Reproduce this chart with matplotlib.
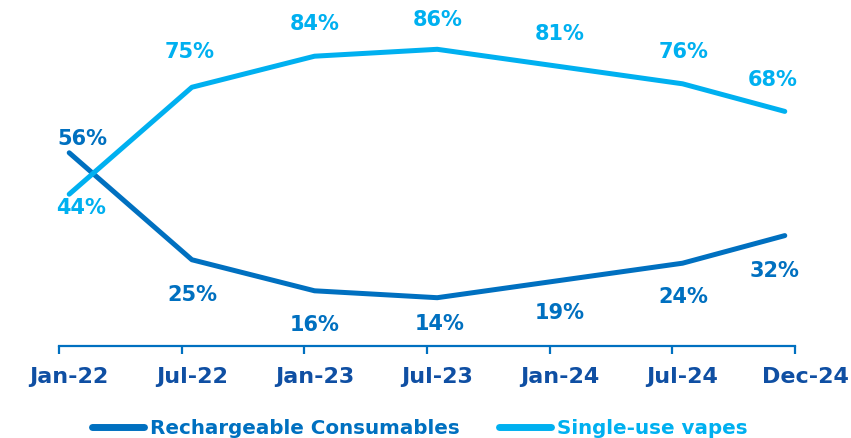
import matplotlib
matplotlib.use('Agg')
import matplotlib.pyplot as plt
import numpy as np

periods = ['Jan-22', 'Jul-22', 'Jan-23', 'Jul-23', 'Jan-24', 'Jul-24', 'Dec-24']
months = [0, 6, 12, 18, 24, 30, 35]  # months since Jan-22 (date axis)
rechargeable = [56, 25, 16, 14, 19, 24, 32]
single_use = [44, 75, 84, 86, 81, 76, 68]

# label offsets in pixels (dx, dy up)
rech_off = [(13, 14), (0, -35), (0, -34), (2, -26), (0, -33), (1, -34), (-10, -35)]
single_off = [(12, -14), (-2, 35), (0, 32), (0, 29), (0, 33), (1, 32), (-12, 31)]

dark = '#0070C0'
light = '#00B0F0'
tickc = '#0F4FA3'

plt.rcParams['font.family'] = ['DejaVu Sans']
plt.rcParams['font.weight'] = 'bold'

fig = plt.figure(figsize=(8.51, 4.38), dpi=100)
ax = fig.add_axes([59 / 851, 1 - 346 / 438, (795 - 59) / 851, 345 / 438])

ax.plot(months, rechargeable, color=dark, lw=3.6, solid_capstyle='round',
        label='Rechargeable Consumables', clip_on=False)
ax.plot(months, single_use, color=light, lw=3.6, solid_capstyle='round',
        label='Single-use vapes', clip_on=False)

for xi, v, off in zip(months, rechargeable, rech_off):
    ax.annotate(f'{v}%', (xi, v), xytext=off, textcoords='offset pixels',
                ha='center', va='center', color=dark, fontsize=15, fontweight='bold')
for xi, v, off in zip(months, single_use, single_off):
    ax.annotate(f'{v}%', (xi, v), xytext=off, textcoords='offset pixels',
                ha='center', va='center', color=light, fontsize=15, fontweight='bold')

ax.set_xlim(-0.5, 35.5)
ax.set_ylim(0, 100)
ticks = np.arange(len(periods)) * 6 - 0.5
ax.set_xticks(ticks)
ax.set_xticklabels([])
# category labels sit a little right of the tick marks
for t, name in zip(ticks, periods):
    ax.annotate(name, (t, 0), xycoords=ax.get_xaxis_transform(),
                xytext=(10, -31), textcoords='offset pixels',
                ha='center', va='center', fontsize=16, fontweight='bold',
                color=tickc, annotation_clip=False)
ax.set_yticks([])
for s in ['top', 'right', 'left']:
    ax.spines[s].set_visible(False)
ax.spines['bottom'].set_color(dark)
ax.spines['bottom'].set_linewidth(1.6)
ax.tick_params(axis='x', direction='out', length=6, width=1.6, color=dark)

leg = fig.legend(loc='center', bbox_to_anchor=(420 / 851, 1 - 428 / 438), ncol=2,
                 frameon=False, handlelength=2.6, columnspacing=2.0,
                 handletextpad=0.3, labelcolor='linecolor',
                 prop={'weight': 'bold', 'size': 14.3})
for h in leg.legend_handles:
    h.set_linewidth(5)

fig.savefig('out.png', dpi=100)
